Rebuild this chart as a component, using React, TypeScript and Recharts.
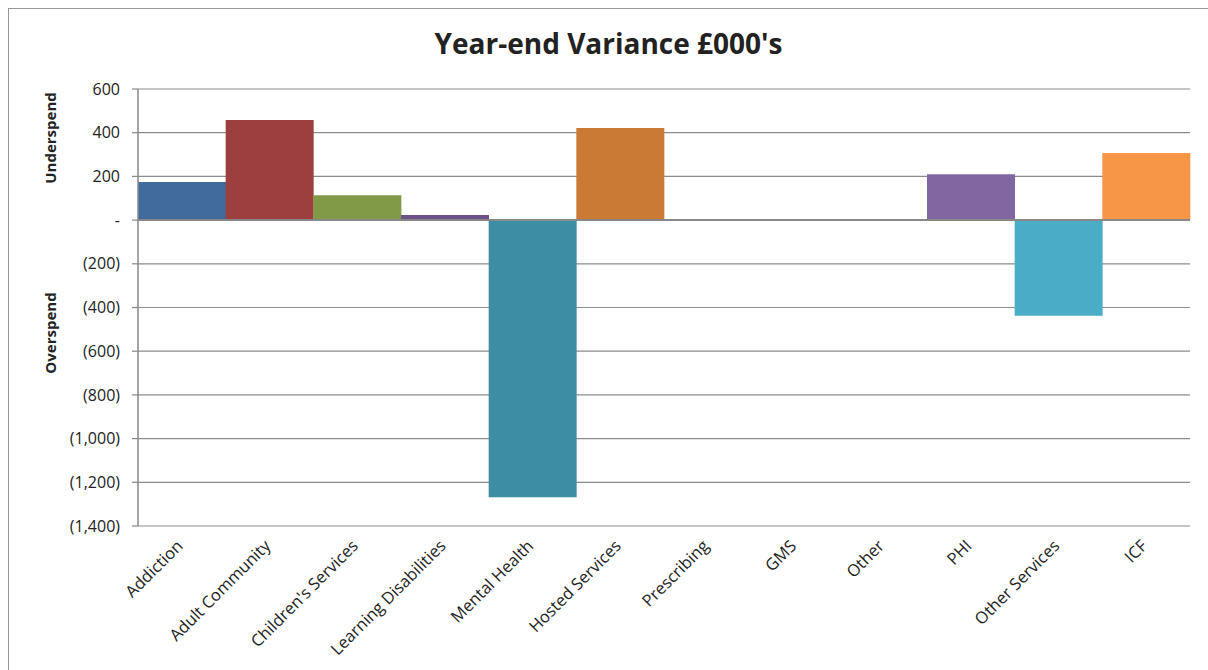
import React from 'react';
import { BarChart, Bar, XAxis, YAxis, CartesianGrid, ReferenceLine, Cell } from 'recharts';

const categories = [
  'Addiction', 'Adult Community', "Children's Services", 'Learning Disabilities', 'Mental Health',
  'Hosted Services', 'Prescribing', 'GMS', 'Other', 'PHI', 'Other Services', 'ICF',
];
const variance = [174, 458, 114, 23, -1268, 421, 0, 0, 0, 210, -438, 307];
const barColors = [
  '#416B9C', '#9E3F3F', '#819A47', '#6A5289', '#3D8EA5', '#CB7A36',
  '#4A7EBB', '#BE4B48', '#98B954', '#8166A2', '#4AACC6', '#F79646',
];
const yTicks = [600, 400, 200, 0, -200, -400, -600, -800, -1000, -1200, -1400];

const data = categories.map((name, i) => ({ name, value: variance[i] }));

const fmt = (v: number) => {
  if (v === 0) return '-';
  const s = Math.abs(v).toLocaleString('en-US');
  return v < 0 ? `(${s})` : s;
};

const FONT = '"Open Sans", sans-serif';

const XTick = (props: any) => {
  const { x, y, payload } = props;
  return (
    <g transform={`translate(${x + 2},${y + 13})`}>
      <text x={0} y={0} textAnchor="end" transform="rotate(-45)" fontSize={16.5} fontFamily={FONT} fill="#222">
        {payload.value}
      </text>
    </g>
  );
};

const labelStyle: React.CSSProperties = {
  position: 'absolute',
  left: 41,
  transform: 'translate(-50%,-50%) rotate(-90deg)',
  whiteSpace: 'nowrap',
  fontFamily: FONT,
  fontWeight: 700,
  fontSize: 15,
  color: '#222',
};

export default function App() {
  return (
    <>
      <style>{`html,body{margin:0;padding:0;overflow:hidden;background:#fff;}`}</style>
      <div style={{ width: 1208, height: 670, overflow: 'hidden', position: 'relative', background: '#fff' }}>
        <div
          style={{
            position: 'absolute',
            left: 8,
            top: 8,
            width: 1199,
            height: 661,
            borderTop: '1px solid #999',
            borderLeft: '1px solid #999',
          }}
        >
          <div
            style={{
              position: 'absolute',
              left: 0,
              top: 17,
              width: 1199,
              textAlign: 'center',
              fontFamily: FONT,
              fontWeight: 700,
              fontSize: 28,
              lineHeight: '34px',
              color: '#222',
            }}
          >
            Year-end Variance £000's
          </div>
          <div style={{ ...labelStyle, top: 129 }}>Underspend</div>
          <div style={{ ...labelStyle, top: 324 }}>Overspend</div>
          <BarChart
            width={1191}
            height={652}
            data={data}
            margin={{ top: 80, right: 10, left: 69, bottom: 15 }}
            barCategoryGap={0}
            barGap={0}
          >
            <CartesianGrid horizontal vertical={false} stroke="#8c8c8c" strokeWidth={1.2} />
            <XAxis
              dataKey="name"
              interval={0}
              height={120}
              axisLine={false}
              tickLine={false}
              tick={<XTick />}
            />
            <YAxis
              width={60}
              domain={[-1400, 600]}
              ticks={yTicks}
              interval={0}
              tickFormatter={fmt}
              axisLine={{ stroke: '#888', strokeWidth: 1.5 }}
              tickLine={{ stroke: '#888', strokeWidth: 1.2 }}
              tickSize={6}
              tickMargin={12}
              tick={{ fontSize: 16, fontFamily: FONT, fill: '#222' }}
            />
            <Bar dataKey="value" isAnimationActive={false}>
              {data.map((d, i) => (
                <Cell key={d.name} fill={barColors[i]} />
              ))}
            </Bar>
            <ReferenceLine y={0} stroke="#888" strokeWidth={2} />
          </BarChart>
        </div>
      </div>
    </>
  );
}
